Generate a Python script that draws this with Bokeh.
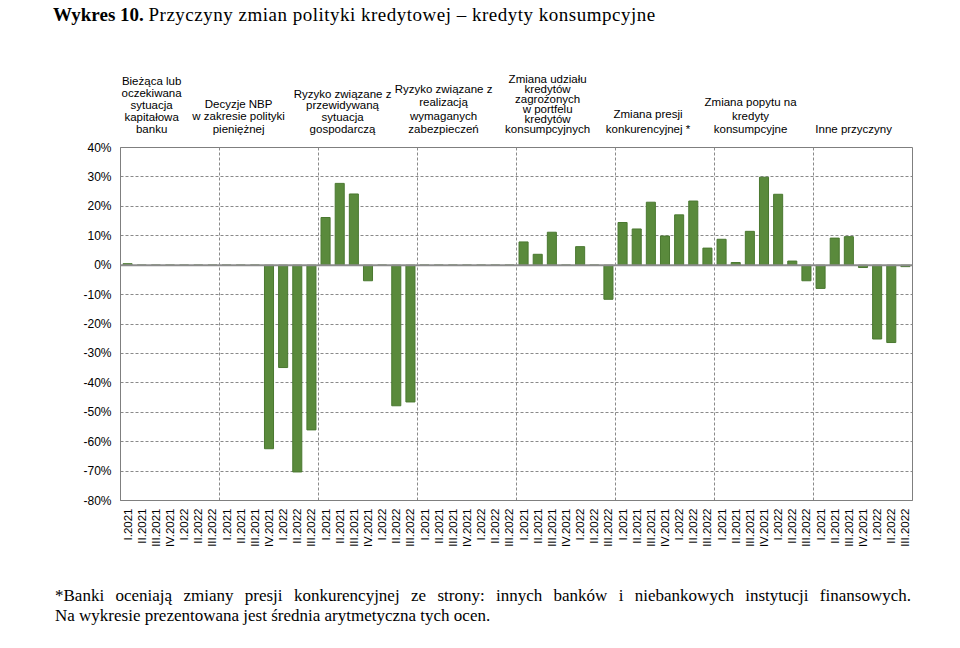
import math
from bokeh.plotting import figure
from bokeh.layouts import column
from bokeh.models import Range1d, FixedTicker, PrintfTickFormatter, Span, ColumnDataSource, Div
from bokeh.core.properties import value
from bokeh.embed import file_html
from bokeh.resources import INLINE

# ---------------- data ----------------
quarters = ["I.2021", "II.2021", "III.2021", "IV.2021", "I.2022", "II.2022", "III.2022"]
categories = [
    "Bieżąca lub\noczekiwana\nsytuacja\nkapitałowa\nbanku",
    "Decyzje NBP\nw zakresie polityki\npieniężnej",
    "Ryzyko związane z\nprzewidywaną\nsytuacja\ngospodarczą",
    "Ryzyko związane z\nrealizacją\nwymaganych\nzabezpieczeń",
    "Zmiana udziału\nkredytów\nzagrożonych\nw portfelu\nkredytów\nkonsumpcyjnych",
    "Zmiana presji\nkonkurencyjnej *",
    "Zmiana popytu na\nkredyty\nkonsumpcyjne",
    "Inne przyczyny",
]
sytuacja_kapitalowa = [0.5, 0, 0, 0, 0, 0, 0]
decyzje_nbp = [0, 0, 0, -62.4, -34.8, -70.3, -56.0]
ryzyko_sytuacja = [16.2, 27.8, 24.2, -5.3, 0, -47.8, -46.5]
ryzyko_zabezpieczenia = [0, 0, 0, 0, 0, 0, 0]
kredyty_zagrozone = [7.9, 3.7, 11.2, 0, 6.3, 0, -11.6]
presja_konkurencyjna = [14.5, 12.3, 21.4, 9.9, 17.1, 21.8, 5.8]
popyt = [8.8, 0.9, 11.5, 29.9, 24.1, 1.4, -5.3]
inne = [-7.9, 9.2, 9.7, -0.8, -25.1, -26.3, -0.5]
series = [sytuacja_kapitalowa, decyzje_nbp, ryzyko_sytuacja, ryzyko_zabezpieczenia,
          kredyty_zagrozone, presja_konkurencyjna, popyt, inne]
y_ticks = list(range(-80, 41, 10))

title_bold = "Wykres 10."
title_rest = "Przyczyny zmian polityki kredytowej – kredyty konsumpcyjne"
note_line1 = "*Banki oceniają zmiany presji konkurencyjnej ze strony: innych banków i niebankowych instytucji finansowych."
note_line2 = "Na wykresie prezentowana jest średnia arytmetyczna tych ocen."

# ---------------- layout ----------------
W = 950
TITLE_H, HEAD_H, MAIN_H, BOT_H = 30, 110, 440, 60
FRAME_L, FRAME_R, FRAME_T, FRAME_B = 120, 912, 147, 500   # page pixels
MAIN_TOP = TITLE_H + HEAD_H
NQ = len(quarters)
N = NQ * len(categories)
X0, X1 = -0.5, N - 0.5
Y0, Y1 = -80, 40


def page_x(xd):
    return FRAME_L + (xd - X0) / (X1 - X0) * (FRAME_R - FRAME_L)


# ---------------- main chart ----------------
x_idx, tops, labels = [], [], {}
for g, vals in enumerate(series):
    for q, v in enumerate(vals):
        i = g * NQ + q
        x_idx.append(i)
        tops.append(v)
        labels[i] = quarters[q]
src = ColumnDataSource(dict(x=x_idx, top=tops))

p = figure(width=W, height=MAIN_H, output_backend="svg", toolbar_location=None, title=None,
           x_range=Range1d(X0, X1), y_range=Range1d(Y0, Y1),
           min_border_left=FRAME_L, min_border_right=W - FRAME_R,
           min_border_top=FRAME_T - MAIN_TOP,
           min_border_bottom=MAIN_H - (FRAME_B - MAIN_TOP),
           background_fill_color="white", border_fill_color="white")

GRID = "#8a8a8a"
p.outline_line_color = "#7f7f7f"
p.outline_line_width = 1
p.ygrid.ticker = FixedTicker(ticks=y_ticks)
p.ygrid.grid_line_color = GRID
p.ygrid.grid_line_dash = "3 2"
p.xgrid.ticker = FixedTicker(ticks=[g * NQ - 0.5 for g in range(1, len(categories))])
p.xgrid.grid_line_color = GRID
p.xgrid.grid_line_dash = "3 2"

p.vbar(x="x", top="top", bottom=0, width=0.64, source=src,
       fill_color="#5a8a3c", line_color="#4a7830", line_width=1)
p.add_layout(Span(location=0, dimension="width", line_color="#8c8c8c", line_width=2))

p.yaxis.ticker = FixedTicker(ticks=y_ticks)
p.yaxis.formatter = PrintfTickFormatter(format="%d%%")
p.xaxis.ticker = FixedTicker(ticks=list(range(N)))
p.xaxis.major_label_overrides = labels
p.xaxis.major_label_orientation = math.pi / 2
for ax in (p.xaxis[0], p.yaxis[0]):
    ax.major_tick_out = 0
    ax.major_tick_in = 0
    ax.minor_tick_out = 0
    ax.minor_tick_in = 0
    ax.axis_line_color = "#7f7f7f"
    ax.major_label_text_font = "Liberation Sans"
    ax.major_label_text_color = "#000000"
p.yaxis.major_label_text_font_size = "12px"
p.yaxis.major_label_standoff = 9
p.xaxis.major_label_text_font_size = "11.5px"
p.xaxis.major_label_standoff = 8

# ---------------- header panel (frame aligned with the chart frame) ----------------
head = figure(width=W, height=HEAD_H, output_backend="svg", toolbar_location=None, title=None,
              x_range=Range1d(FRAME_L, FRAME_R), y_range=Range1d(MAIN_TOP, TITLE_H),
              x_axis_type=None, y_axis_type=None,
              min_border_left=FRAME_L, min_border_right=W - FRAME_R, min_border_top=0,
              min_border_bottom=0, background_fill_color="white", border_fill_color="white")
head.grid.visible = False
head.outline_line_color = None

header_dx = [-1.3, -2.15, -1.8, -1.66, -1.3, -1.2, -0.95, -0.66]
header_spacing = [12, 12.5, 11.7, 13.3, 10, 15, 13.3, 12]
last_line_y = 128.3
hx, hy, ht = [], [], []
for g, cat in enumerate(categories):
    lines = cat.split("\n")
    cx = page_x(g * NQ + (NQ - 1) / 2 + header_dx[g])
    n = len(lines)
    for k, line in enumerate(lines):
        hx.append(cx)
        hy.append(last_line_y - (n - 1 - k) * header_spacing[g])
        ht.append(line)
head.text(x=hx, y=hy, text=ht, text_align="center", text_baseline="middle",
          text_font=value("Liberation Sans"), text_font_size="11.5px", text_color="#000000")

# ---------------- title and footnote (HTML text) ----------------
SERIF = "'Liberation Serif', 'Times New Roman', serif"
title_div = Div(
    text=(f'<div style="font-family:{SERIF}; font-size:19px; color:#000; margin-left:53px; '
          f'margin-top:3px; line-height:24px; white-space:nowrap;"><b>{title_bold}</b> '
          f'<span style="letter-spacing:0.5px;">{title_rest}</span></div>'),
    width=W, height=TITLE_H, margin=0)

note_div = Div(
    text=(f'<div style="font-family:{SERIF}; font-size:17px; color:#000; margin-left:55px; '
          f'margin-top:6px; width:856px; line-height:20px;">'
          f'<div style="text-align:justify; text-align-last:justify;">{note_line1}</div>'
          f'<div style="text-align:left;">{note_line2}</div></div>'),
    width=W, height=BOT_H, margin=0)

layout = column(title_div, head, p, note_div, spacing=0)
open("out.html", "w").write(file_html(layout, INLINE))
